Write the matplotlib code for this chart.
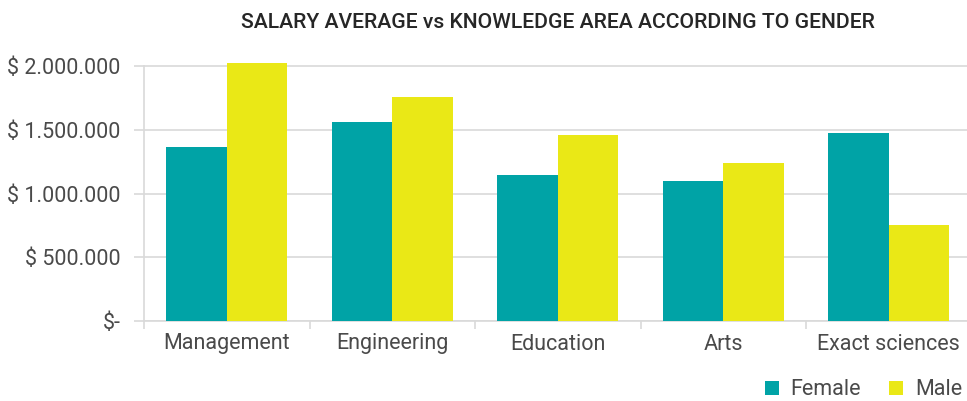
import numpy as np
import matplotlib.pyplot as plt
from matplotlib.ticker import FuncFormatter

# salary averages
areas = ["Management", "Engineering", "Education", "Arts", "Exact sciences"]
female = [1362000, 1558000, 1145000, 1098000, 1472000]
male = [2026000, 1759000, 1459000, 1242000, 750000]
yticks = [0, 500000, 1000000, 1500000, 2000000]

teal = "#00A3A6"
yellow = "#EAE816"
grid_col = "#D9D9D9"
txt_col = "#4A4A4A"

plt.rcParams['font.family'] = ['Roboto', 'DejaVu Sans']


def money(v, pos):
    if v == 0:
        return "$-"
    return "$ " + format(int(v), ",").replace(",", ".")


fig = plt.figure(figsize=(9.67, 4.01), dpi=100)
ax = fig.add_axes([144 / 967, 80 / 401, 827.5 / 967, 267.75 / 401])

x = np.arange(len(areas))
w = 0.365
ax.bar(x - w / 2, female, w, color=teal, label="Female", zorder=3)
ax.bar(x + w / 2, male, w, color=yellow, label="Male", zorder=3)

ax.set_xlim(-0.5, len(areas) - 0.5)
ax.set_ylim(0, 2100000)
ax.set_yticks(yticks)
ax.yaxis.set_major_formatter(FuncFormatter(money))
ax.grid(axis="y", color=grid_col, linewidth=1.2, zorder=0)

ax.set_xticks(x)
ax.set_xticklabels(areas)
ax.set_xticks(np.arange(len(areas) + 1) - 0.5, minor=True)
ax.tick_params(axis="x", which="major", length=0, pad=9, labelsize=15.5,
               labelcolor=txt_col)
ax.tick_params(axis="x", which="minor", length=6, color=grid_col, width=1.2)
ax.tick_params(axis="y", length=7, color=grid_col, width=1.2, pad=10,
               labelsize=15.5, labelcolor=txt_col)

for s in ["top", "right"]:
    ax.spines[s].set_visible(False)
for s in ["left", "bottom"]:
    ax.spines[s].set_color(grid_col)
    ax.spines[s].set_linewidth(1.2)
ax.spines["left"].set_bounds(0, 2000000)

fig.text(0.577, 0.945, "SALARY AVERAGE vs KNOWLEDGE AREA ACCORDING TO GENDER",
         ha="center", va="center", fontsize=15.2, fontweight="medium",
         color="#262626")

leg = fig.legend(loc="center right", bbox_to_anchor=(962 / 967, 0.028), ncol=2,
                 frameon=False, fontsize=15.5, handlelength=0.65,
                 handleheight=0.65, handletextpad=0.55, columnspacing=1.3,
                 borderpad=0, borderaxespad=0)
for t in leg.get_texts():
    t.set_color(txt_col)

fig.savefig("out.png", dpi=100)
